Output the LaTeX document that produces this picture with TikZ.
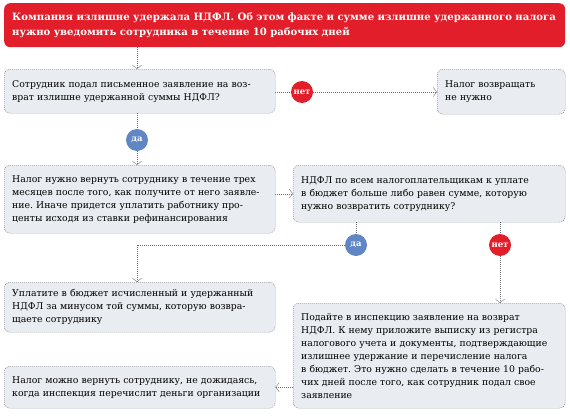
\documentclass[tikz,border=0pt]{standalone}
\usepackage{fontspec}
\setmainfont{DejaVu Serif}
\usetikzlibrary{arrows.meta}
\definecolor{krasnyj}{RGB}{226,30,42}
\definecolor{sinij}{RGB}{96,134,196}
\definecolor{fon}{RGB}{233,236,240}
\definecolor{ramka}{RGB}{110,114,120}
\frenchspacing

\begin{document}
\begin{tikzpicture}[x=1pt, y=-1pt,
    blok/.style = {draw=ramka, dash pattern=on 1pt off 1pt, fill=fon, rounded corners=6pt,
                   anchor=north west, align=left, inner xsep=8pt, inner ysep=3pt,
                   font=\fontsize{9.3}{13}\selectfont},
    titul/.style = {fill=krasnyj, rounded corners=6pt, anchor=north west, align=left,
                    inner xsep=8pt, text=white, font=\fontsize{10.1}{15.5}\selectfont\bfseries},
    krug/.style = {circle, minimum size=22pt, inner sep=0pt, text=white,
                   font=\fontsize{8.5}{9}\selectfont\bfseries},
    liniya/.style = {draw=ramka, dash pattern=on 1pt off 1pt},
    strelka/.style = {liniya, -{Straight Barb[length=3.5pt, width=9pt]}}]
  \useasboundingbox (0,0) rectangle (570,415);

  \node[titul, text width=545pt, minimum height=44pt] (nachalo) at (4,3)
    {Компания излишне удержала НДФЛ. Об этом факте и сумме излишне удержанного налога\\нужно уведомить сотрудника в течение 10 рабочих дней};

  \node[blok, text width=255pt, minimum height=44pt] (zayav) at (4,69)
    {Сотрудник подал письменное заявление на воз-\\врат излишне удержанной суммы НДФЛ?};
  \node[blok, text width=112pt, minimum height=45pt] (nenuzhno) at (437,69)
    {Налог возвращать\\не нужно};
  \node[blok, text width=255pt, minimum height=68pt] (vernut) at (4,165)
    {Налог нужно вернуть сотруднику в течение трех\\месяцев после того, как получите от него заявле-\\ние. Иначе придется уплатить работнику про-\\центы исходя из ставки рефинансирования};
  \node[blok, text width=256pt, minimum height=57pt] (bjudzhet) at (293,165)
    {НДФЛ по всем налогоплательщикам к уплате\\в бюджет больше либо равен сумме, которую\\нужно возвратить сотруднику?};
  \node[blok, text width=255pt, minimum height=50pt] (uplatite) at (4,282)
    {Уплатите в бюджет исчисленный и удержанный\\НДФЛ за минусом той суммы, которую возвра-\\щаете сотруднику};
  \node[blok, text width=256pt, minimum height=105pt] (podajte) at (293,303)
    {Подайте в инспекцию заявление на возврат\\НДФЛ. К нему приложите выписку из регистра\\налогового учета и документы, подтверждающие\\излишнее удержание и перечисление налога\\в бюджет. Это нужно сделать в течение 10 рабо-\\чих дней после того, как сотрудник подал свое\\заявление};
  \node[blok, text width=255pt, minimum height=42pt] (mozhno) at (4,366)
    {Налог можно вернуть сотруднику, не дожидаясь,\\когда инспекция перечислит деньги организации};

  \node[krug, fill=krasnyj] (net1) at (302,92) {нет};
  \node[krug, fill=sinij] (da1) at (137,140) {да};
  \node[krug, fill=sinij] (da2) at (356,245) {да};
  \node[krug, fill=krasnyj] (net2) at (500,245) {нет};

  \draw[strelka] (nachalo.south -| da1) -- (zayav.north -| da1);
  \draw[liniya] (zayav.east |- net1) -- (net1);
  \draw[strelka] (net1) -- (nenuzhno.west |- net1);
  \draw[liniya] (zayav.south -| da1) -- (da1);
  \draw[strelka] (da1) -- (vernut.north -| da1);
  \draw[strelka] (vernut.east |- bjudzhet) -- (bjudzhet.west);
  \draw[liniya] (bjudzhet.south -| da2) -- (da2);
  \draw[strelka] (da2) -| (uplatite.north -| da1);
  \draw[liniya] (bjudzhet.south -| net2) -- (net2);
  \draw[strelka] (net2) -- (podajte.north -| net2);
  \draw[strelka] (podajte.west |- mozhno) -- (mozhno.east);
\end{tikzpicture}
\end{document}
